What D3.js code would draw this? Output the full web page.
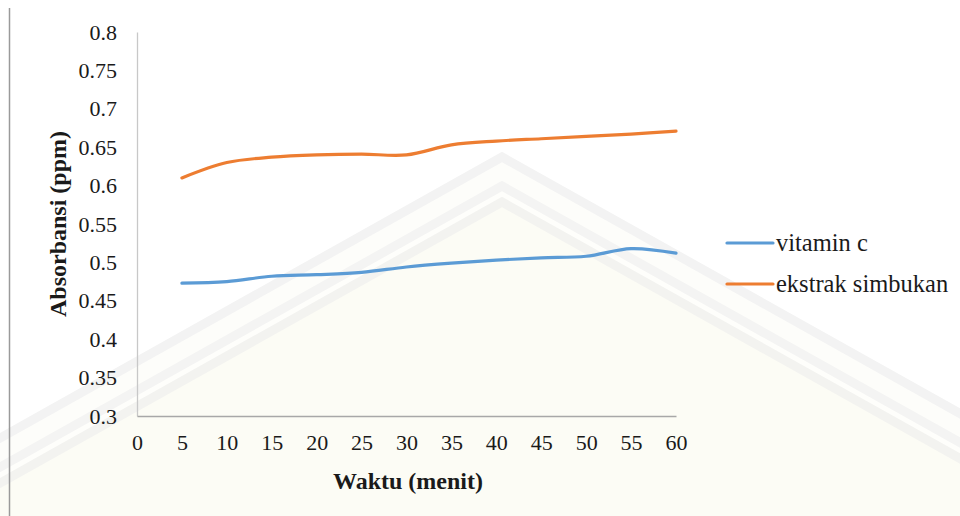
<!DOCTYPE html>
<html>
<head>
<meta charset="utf-8">
<script src="https://cdn.jsdelivr.net/npm/d3@7"></script>
<style>
  html, body { margin: 0; padding: 0; background: #ffffff; }
  svg { display: block; }
  text { font-family: "Liberation Serif", "Times New Roman", serif; fill: #1a1a1a; }
</style>
</head>
<body>
<svg id="chart" width="960" height="516"></svg>
<script>
// Absorbance readings over time (minutes)
const waktu = [5, 10, 15, 20, 25, 30, 35, 40, 45, 50, 55, 60];
const vitaminC = [0.473, 0.475, 0.482, 0.484, 0.487, 0.494, 0.499, 0.503, 0.506, 0.508, 0.518, 0.512];
const ekstrakSimbukan = [0.610, 0.630, 0.637, 0.640, 0.641, 0.640, 0.653, 0.658, 0.661, 0.664, 0.667, 0.671];
const seriesNames = ["vitamin c", "ekstrak simbukan"];
const seriesColors = ["#5B9BD5", "#ED7D31"];
const xTicks = [0, 5, 10, 15, 20, 25, 30, 35, 40, 45, 50, 55, 60];
const yTicks = [0.3, 0.35, 0.4, 0.45, 0.5, 0.55, 0.6, 0.65, 0.7, 0.75, 0.8];

const svg = d3.select("#chart");

// faint background seal: nested chevron bands
const wm = svg.append("g").attr("class", "seal");
const sealBands = [
  { apex: 157, fill: "#fdfdfa", stroke: "#f3f3f3" },
  { apex: 186, fill: "#fefefb", stroke: "#f4f4f3" },
  { apex: 202, fill: "#fcfcf5", stroke: "#f3f3f0" }
];
sealBands.forEach(b => {
  const cx = 502, s = 0.56;
  wm.append("path")
    .attr("d", `M${cx - (560 - b.apex) / s},560 L${cx},${b.apex} L${cx + (560 - b.apex) / s},560 Z`)
    .attr("fill", b.fill)
    .attr("stroke", b.stroke)
    .attr("stroke-width", 9);
});

// left page rule
svg.append("line")
  .attr("x1", 9.5).attr("x2", 9.5)
  .attr("y1", 8).attr("y2", 516)
  .attr("stroke", "#9a9a9a").attr("stroke-width", 1.5);

const x = d3.scaleLinear().domain([0, 60]).range([137, 676]);
const y = d3.scaleLinear().domain([0.3, 0.8]).range([416, 32]);

// y axis
const yAxis = svg.append("g")
  .attr("transform", `translate(${x(0)},0)`)
  .call(d3.axisLeft(y).tickValues(yTicks).tickSize(0).tickPadding(20)
    .tickFormat(d => String(+d.toFixed(2))));
yAxis.select(".domain").attr("stroke", "#c8c8c8").attr("stroke-width", 1.3);
yAxis.selectAll("text")
  .attr("font-size", 22)
  .style("fill", "#1a1a1a");

// x axis
const xAxis = svg.append("g")
  .attr("transform", `translate(0,${y(0.3)})`)
  .call(d3.axisBottom(x).tickValues(xTicks).tickSize(0).tickPadding(18));
xAxis.select(".domain").attr("stroke", "#a8a8a8").attr("stroke-width", 1.3);
xAxis.selectAll("text")
  .attr("font-size", 22)
  .style("fill", "#1a1a1a");

// axis titles
svg.append("text")
  .attr("x", 408).attr("y", 489)
  .attr("text-anchor", "middle")
  .attr("font-size", 24).attr("font-weight", "bold")
  .text("Waktu (menit)");

svg.append("text")
  .attr("transform", "translate(66,224) rotate(-90)")
  .attr("text-anchor", "middle")
  .attr("font-size", 24).attr("font-weight", "bold")
  .text("Absorbansi (ppm)");

// series lines
const line = d3.line()
  .x(d => x(d[0]))
  .y(d => y(d[1]))
  .curve(d3.curveCatmullRom.alpha(0.5));

[vitaminC, ekstrakSimbukan].forEach((vals, i) => {
  svg.append("path")
    .datum(waktu.map((t, k) => [t, vals[k]]))
    .attr("fill", "none")
    .attr("stroke", seriesColors[i])
    .attr("stroke-width", 3.2)
    .attr("stroke-linecap", "round")
    .attr("d", line);
});

// legend
const legend = svg.append("g").attr("transform", "translate(727,243)");
seriesNames.forEach((name, i) => {
  const g = legend.append("g").attr("transform", `translate(0,${i * 41})`);
  g.append("line")
    .attr("x1", 0).attr("x2", 46)
    .attr("stroke", seriesColors[i]).attr("stroke-width", 3.2)
    .attr("stroke-linecap", "round");
  g.append("text")
    .attr("x", 49).attr("y", 8)
    .attr("font-size", 24.5)
    .text(name);
});
</script>
</body>
</html>
